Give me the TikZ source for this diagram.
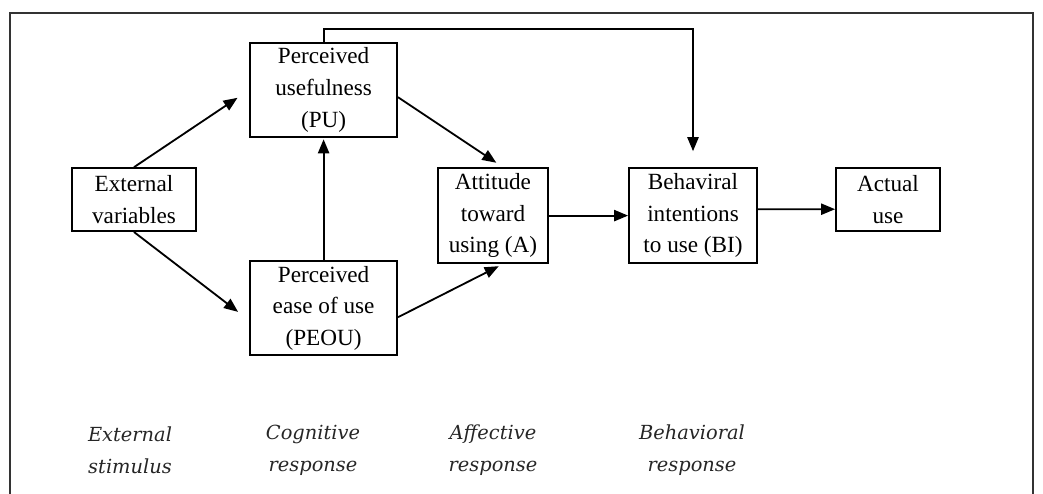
\documentclass[tikz,border=0pt]{standalone}
\usepackage{fontspec}
\setmainfont{Liberation Serif}
\newfontfamily\stagefont{DejaVu Serif}
\usepackage{xcolor}
\usepackage{tikz}
\usetikzlibrary{arrows.meta,positioning,calc}

\begin{document}
\begin{tikzpicture}[
  box/.style={draw,line width=1.3pt,align=center,inner sep=0pt,
    font=\fontsize{16.5}{22.5}\selectfont},
  arr/.style={line width=1.3pt,-{Triangle[length=10pt,width=8pt]}},
  stage/.style={align=center,text=black!85,
    font=\stagefont\itshape\fontsize{13.8}{22.5}\selectfont}]
\useasboundingbox (0,0) rectangle (26.075,-12.325);
\draw[line width=1.4pt,black!80] (0.25,-12.6) |- (25.83,-0.33) -- (25.83,-12.6);
% boxes
\node[box,minimum width=3.1cm,minimum height=1.575cm] (ext) at (3.35,-4.99) {External\\variables};
\node[box,minimum width=3.675cm,minimum height=2.35cm] (pu) at (8.09,-2.25) {Perceived\\usefulness\\(PU)};
\node[box,minimum width=3.675cm,minimum height=2.35cm] (peou) at (8.09,-7.71) {Perceived\\ease of use\\(PEOU)};
\node[box,minimum width=2.75cm,minimum height=2.375cm] (att) at (12.325,-5.39) {Attitude\\toward\\using (A)};
\node[box,minimum width=3.2cm,minimum height=2.375cm] (bi) at (17.325,-5.39) {Behaviral\\intentions\\to use (BI)};
\node[box,minimum width=2.6cm,minimum height=1.575cm] (use) at (22.2,-4.99) {Actual\\use};
% arrows
\draw[arr,shorten >=0.35cm] (ext.north) -- (pu.west);
\draw[arr,shorten >=0.35cm] (ext.south) -- ([yshift=-0.3cm]peou.west);
\draw[arr,shorten >=1pt] (peou.north) -- (pu.south);
\draw[arr,shorten >=0.2cm] ([yshift=-0.18cm]pu.east) -- ([xshift=0.25cm]att.north);
\draw[arr,shorten >=0.12cm] ([yshift=-0.22cm]peou.east) -- ([xshift=0.25cm]att.south);
\draw[arr] (att.east) -- (bi.west);
\draw[arr] ([yshift=0.16cm]bi.east) -- ([yshift=-0.24cm]use.west);
\draw[arr,shorten >=0.4cm] (pu.north) -- ++(0,0.325) -| (bi.north);
% stages
\node[stage] (s1) at (3.25,-11.25) {External\\stimulus};
\node[stage] (s2) at (7.825,-11.25) {Cognitive\\response};
\node[stage] (s3) at (12.325,-11.25) {Affective\\response};
\node[stage] (s4) at (17.3,-11.25) {Behavioral\\response};
\end{tikzpicture}
\end{document}
